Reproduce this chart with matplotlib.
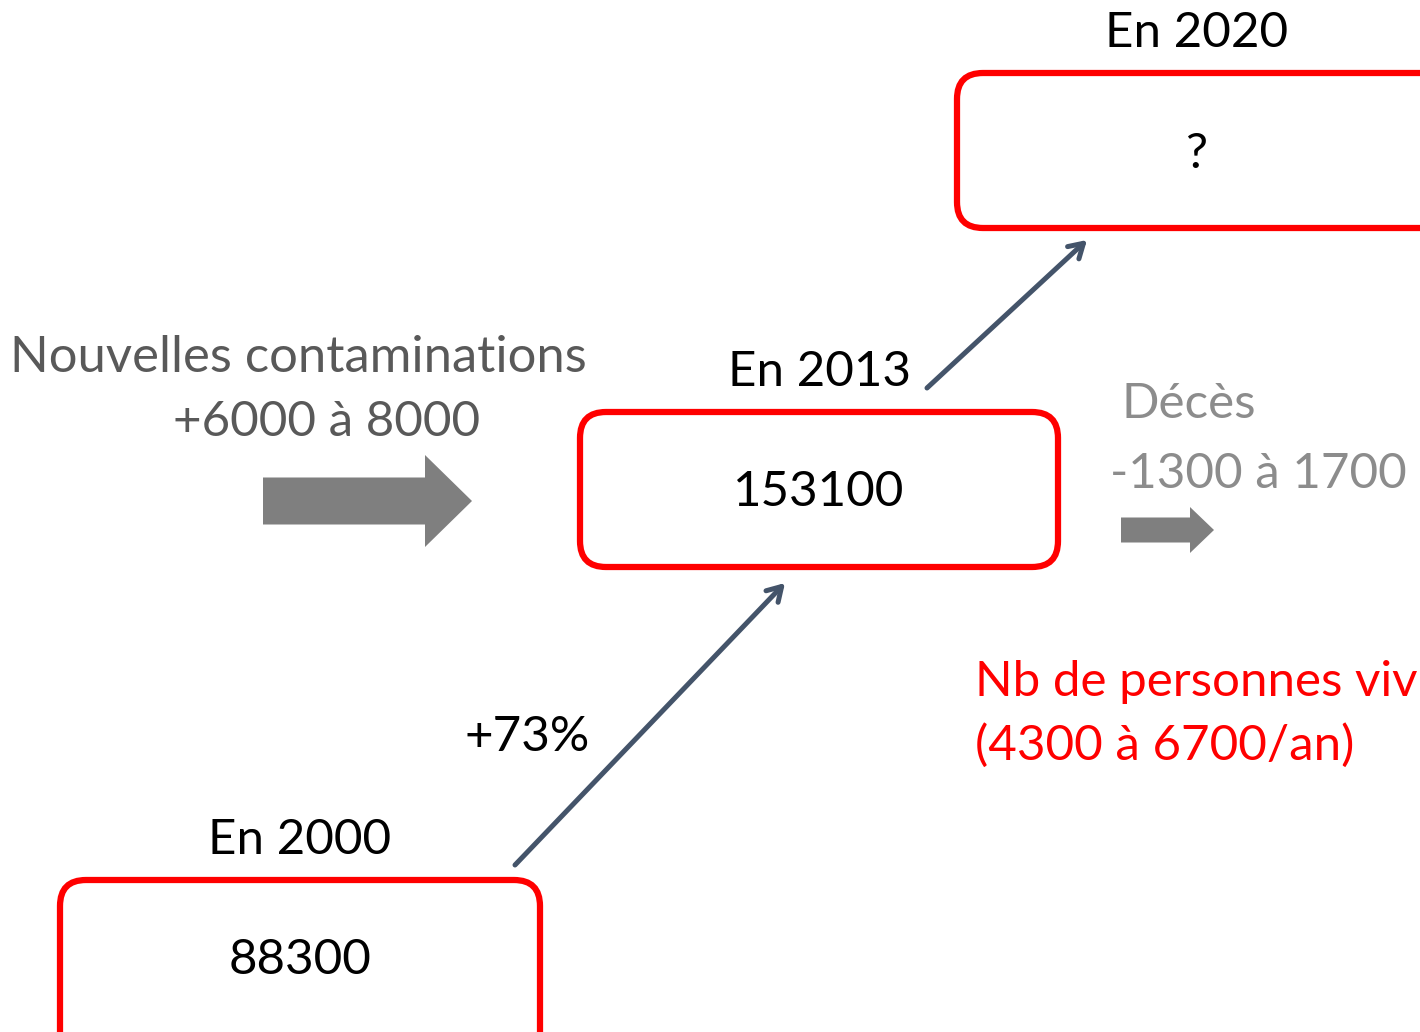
import matplotlib.pyplot as plt
from matplotlib.patches import FancyBboxPatch, FancyArrow

plt.rcParams['font.family'] = ['Lato', 'DejaVu Sans']

# boxes: year label, value, box (x0, y0, x1, y1) in pixel space
years = ['En 2000', 'En 2013', 'En 2020']
values = ['88300', '153100', '?']
boxes = [(60, 880, 540, 1060), (580, 412, 1058, 567), (957, 73, 1460, 228)]

inflow_label = ['Nouvelles contaminations', '+6000 à 8000']
outflow_label = ['Décès', '-1300 à 1700']
growth_label = '+73%'
net_label = ['Nb de personnes viv', '(4300 à 6700/an)']

fig = plt.figure(figsize=(14.2, 10.32), dpi=100)
ax = fig.add_axes([0, 0, 1, 1])
ax.set_xlim(0, 1420)
ax.set_ylim(1032, 0)
ax.axis('off')

fs = 35.5
red = '#ff0000'
for (x0, y0, x1, y1), yr, val in zip(boxes, years, values):
    ax.add_patch(FancyBboxPatch((x0 + 26, y0 + 26), x1 - x0 - 52, y1 - y0 - 52,
                                boxstyle='round,pad=26', fc='white', ec=red, lw=4.5))
    cx = (x0 + min(x1, 1436)) / 2
    cy = (y0 + y1) / 2 if y1 < 1040 else 957
    ax.text(cx, cy + 3, val, ha='center', va='center', fontsize=fs)
    ax.text(cx, y0 - 40, yr, ha='center', va='center', fontsize=fs)

ax.text(298, 358, inflow_label[0], ha='center', va='center', fontsize=36.5, color='#595959')
ax.text(327, 422, inflow_label[1], ha='center', va='center', fontsize=fs, color='#595959')
ax.text(1189, 404, outflow_label[0], ha='center', va='center', fontsize=fs, color='#8c8c8c')
ax.text(1258, 474, outflow_label[1], ha='center', va='center', fontsize=fs, color='#8c8c8c')
ax.text(527, 737, growth_label, ha='center', va='center', fontsize=fs)
ax.text(975, 682, net_label[0], ha='left', va='center', fontsize=fs, color=red)
ax.text(975, 745, net_label[1], ha='left', va='center', fontsize=fs, color=red)

gray = '#7f7f7f'
ax.add_patch(FancyArrow(263, 501, 209, 0, width=47, head_width=92, head_length=47,
                        length_includes_head=True, fc=gray, ec='none'))
ax.add_patch(FancyArrow(1121, 530, 93, 0, width=25, head_width=46, head_length=24,
                        length_includes_head=True, fc=gray, ec='none'))

navy = '#44546a'
for start, end in [((515, 865), (785, 583)), ((927, 388), (1087, 240))]:
    ax.annotate('', xy=end, xytext=start,
                arrowprops=dict(arrowstyle='->,head_length=1.0,head_width=0.6',
                                color=navy, lw=3.6, shrinkA=0, shrinkB=0))

fig.savefig('out.png', dpi=100)
